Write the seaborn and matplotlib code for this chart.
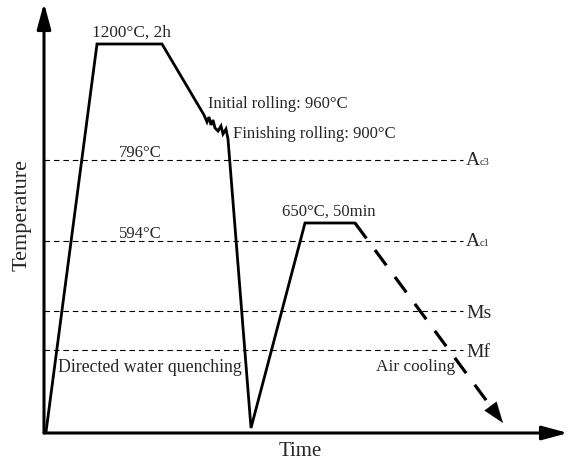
import matplotlib
matplotlib.use("Agg")
import matplotlib.pyplot as plt
import seaborn as sns
import pandas as pd

# Schematic thermal route (time in arbitrary units, temperature as schematic level)
route_time = [2, 53, 118, 160, 163, 165, 167, 169, 171, 174, 177, 179, 182, 184, 207, 261, 311]
route_temp = [1, 389, 389, 318, 311, 316, 308, 313, 305, 302, 307, 299, 304, 294, 5, 210, 210]

# Air cooling after tempering (dashed, with arrow)
cool_time = [311, 459]
cool_temp = [210, 10]

# Critical temperatures (schematic levels)
crit_names = ["Ac3", "Ac1", "Ms", "Mf"]
crit_levels = [273, 192, 122, 83]
crit_end = 419

sns.set_theme(style="white")
plt.rcParams["font.family"] = ["Liberation Serif", "DejaVu Serif"]

fig = plt.figure(figsize=(5.7, 4.71), dpi=100)
ax = fig.add_axes([0, 0, 1, 1])
ax.set_xlim(-44, 526)
ax.set_ylim(-38, 433)
ax.set_axis_off()

# critical temperature lines
for name, lvl in zip(crit_names, crit_levels):
    sns.lineplot(x=[0, crit_end], y=[lvl, lvl], ax=ax, color="black", lw=0.8,
                 linestyle=(0, (5, 3.5)), estimator=None)
    if name.startswith("A"):
        ax.text(crit_end + 3, lvl - 5, "A", fontsize=14, ha="left", va="baseline")
        ax.text(crit_end + 17, lvl - 5, name[1:], fontsize=7.5, ha="left", va="baseline")
    else:
        ax.text(crit_end + 3, lvl - 7, name, fontsize=14, ha="left", va="baseline")

# main route
route = pd.DataFrame({"time": route_time, "temp": route_temp})
sns.lineplot(data=route, x="time", y="temp", sort=False, estimator=None, ax=ax,
             color="black", lw=2.0, solid_joinstyle="miter")

# air cooling, dashed
dx = cool_time[1] - cool_time[0]
dy = cool_temp[1] - cool_temp[0]
frac = 0.9
sns.lineplot(x=[cool_time[0], cool_time[0] + dx * frac],
             y=[cool_temp[0], cool_temp[0] + dy * frac], ax=ax, color="black",
             lw=2.3, linestyle=(0, (6, 4.5)), estimator=None)
ax.annotate("", xy=(cool_time[1], cool_temp[1]),
            xytext=(cool_time[0] + dx * 0.9, cool_temp[0] + dy * 0.9),
            arrowprops=dict(arrowstyle="-|>,head_length=1.25,head_width=0.45",
                            color="black", lw=0.1, shrinkA=0, shrinkB=0))

# axes with arrows
ax.annotate("", xy=(0, 430), xytext=(0, 0),
            arrowprops=dict(arrowstyle="-|>,head_length=1.3,head_width=0.35",
                            color="black", lw=2.2, shrinkA=0, shrinkB=0))
ax.annotate("", xy=(524, 0), xytext=(0, 0),
            arrowprops=dict(arrowstyle="-|>,head_length=1.3,head_width=0.35",
                            color="black", lw=2.2, shrinkA=0, shrinkB=0))

# annotations
ax.text(87, 396, "1200°C, 2h", fontsize=12.4, ha="center", va="baseline")
ax.text(164, 329, "Initial rolling: 960°C", fontsize=12, ha="left", va="center")
ax.text(189, 299, "Finishing rolling: 900°C", fontsize=12, ha="left", va="center")
ax.text(96, 280, "796°C", fontsize=12, ha="center", va="center")
ax.text(96, 199, "594°C", fontsize=12, ha="center", va="center")
ax.text(285, 221, "650°C, 50min", fontsize=12, ha="center", va="center")
ax.text(14, 66, "Directed water quenching", fontsize=12.8, ha="left", va="center")
ax.text(332, 66, "Air cooling", fontsize=12.4, ha="left", va="center")
ax.text(-22, 218, "Temperature", fontsize=16, rotation=90, ha="center", va="center")
ax.text(256, -19, "Time", fontsize=15, ha="center", va="center")

fig.savefig("out.png", dpi=100)
